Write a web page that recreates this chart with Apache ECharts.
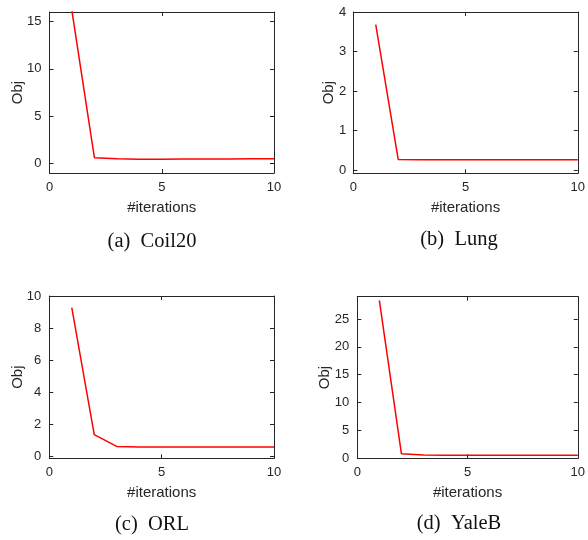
<!DOCTYPE html>
<html>
<head>
<meta charset="utf-8">
<script src="https://cdn.jsdelivr.net/npm/echarts@6/dist/echarts.min.js"></script>
<style>
html,body{margin:0;padding:0;background:#fff;}
#chart{width:588px;height:540px;}
</style>
</head>
<body>
<div id="chart"></div>
<script>
// ---- data ----
const iterations = [1, 2, 3, 4, 5, 6, 7, 8, 9, 10];
const coil20 = [16.1, 0.62, 0.5, 0.45, 0.46, 0.47, 0.48, 0.49, 0.5, 0.51];
const lung = [3.68, 0.27, 0.265, 0.262, 0.26, 0.26, 0.26, 0.26, 0.26, 0.26];
const orl = [9.27, 1.37, 0.64, 0.6, 0.6, 0.6, 0.6, 0.6, 0.6, 0.6];
const yaleb = [28.35, 0.82, 0.6, 0.56, 0.55, 0.55, 0.55, 0.55, 0.55, 0.55];

const xTicks = [0, 5, 10];
const coil20Ticks = [0, 5, 10, 15];
const lungTicks = [0, 1, 2, 3, 4];
const orlTicks = [0, 2, 4, 6, 8, 10];
const yalebTicks = [0, 5, 10, 15, 20, 25];

const captions = ['(a)  Coil20', '(b)  Lung', '(c)  ORL', '(d)  YaleB'];
const xName = '#iterations';
const yName = 'Obj';

// ---- layout ----
const panels = [
  {grid: {left: 49.5, top: 12, width: 224.5, height: 161}, y: coil20, ymin: -1, ymax: 16, yt: coil20Ticks, gap: 24, lm: 8, cap: [152, 242]},
  {grid: {left: 353.3, top: 12, width: 229, height: 161.3}, y: lung, ymin: -0.08, ymax: 4, yt: lungTicks, gap: 17, lm: 7, cap: [459, 240]},
  {grid: {left: 49.3, top: 296, width: 224.7, height: 162.3}, y: orl, ymin: -0.1, ymax: 10, yt: orlTicks, gap: 24, lm: 8, cap: [152, 525]},
  {grid: {left: 357.3, top: 296.7, width: 224.8, height: 161.6}, y: yaleb, ymin: 0, ymax: 29, yt: yalebTicks, gap: 25, lm: 8, cap: [459, 524]}
];

const axisCol = '#262626';
const tickFont = {fontFamily: 'Liberation Sans, Arial, sans-serif', fontSize: 13, color: axisCol};

const grids = [], xAxes = [], yAxes = [], series = [], graphics = [];
panels.forEach((p, i) => {
  grids.push(Object.assign({show: false}, p.grid));
  xAxes.push({
    type: 'value', gridIndex: i, position: 'bottom', min: 0, max: 10,
    name: xName, nameLocation: 'middle', nameGap: 27, nameMoveOverlap: false,
    nameTextStyle: {fontFamily: 'Liberation Sans, Arial, sans-serif', fontSize: 15, color: axisCol},
    axisLine: {show: true, onZero: false, lineStyle: {color: axisCol, width: 1}},
    axisTick: {show: true, inside: true, length: 4, customValues: xTicks, lineStyle: {color: axisCol}},
    axisLabel: Object.assign({show: true, margin: 8, customValues: xTicks, showMinLabel: true, showMaxLabel: true}, tickFont),
    splitLine: {show: false}
  });
  xAxes.push({
    type: 'value', gridIndex: i, position: 'top', min: 0, max: 10,
    axisLine: {show: true, onZero: false, lineStyle: {color: axisCol, width: 1}},
    axisTick: {show: true, inside: true, length: 4, customValues: xTicks, lineStyle: {color: axisCol}},
    axisLabel: {show: false},
    splitLine: {show: false}
  });
  yAxes.push({
    type: 'value', gridIndex: i, position: 'left', min: p.ymin, max: p.ymax,
    name: yName, nameLocation: 'middle', nameGap: p.gap, nameRotate: 90, nameMoveOverlap: false,
    nameTextStyle: {fontFamily: 'Liberation Sans, Arial, sans-serif', fontSize: 15, color: axisCol},
    axisLine: {show: true, onZero: false, lineStyle: {color: axisCol, width: 1}},
    axisTick: {show: true, inside: true, length: 4, customValues: p.yt, lineStyle: {color: axisCol}},
    axisLabel: Object.assign({show: true, margin: p.lm, customValues: p.yt}, tickFont),
    splitLine: {show: false}
  });
  yAxes.push({
    type: 'value', gridIndex: i, position: 'right', min: p.ymin, max: p.ymax,
    axisLine: {show: true, onZero: false, lineStyle: {color: axisCol, width: 1}},
    axisTick: {show: true, inside: true, length: 4, customValues: p.yt, lineStyle: {color: axisCol}},
    axisLabel: {show: false},
    splitLine: {show: false}
  });
  series.push({
    type: 'line', xAxisIndex: 2 * i, yAxisIndex: 2 * i,
    data: iterations.map((x, k) => [x, p.y[k]]),
    showSymbol: false, symbol: 'none', clip: true,
    lineStyle: {color: '#ff0000', width: 1.5},
    animation: false
  });
  graphics.push({
    type: 'text', x: p.cap[0], y: p.cap[1],
    style: {text: captions[i], fontFamily: 'Liberation Serif, Times New Roman, serif', fontSize: 20.5,
            fill: '#111', align: 'center', verticalAlign: 'middle'}
  });
});

const chart = echarts.init(document.getElementById('chart'), null, {renderer: 'canvas'});
chart.setOption({
  animation: false,
  backgroundColor: '#fff',
  grid: grids,
  xAxis: xAxes,
  yAxis: yAxes,
  series: series,
  graphic: graphics
});
</script>
</body>
</html>
